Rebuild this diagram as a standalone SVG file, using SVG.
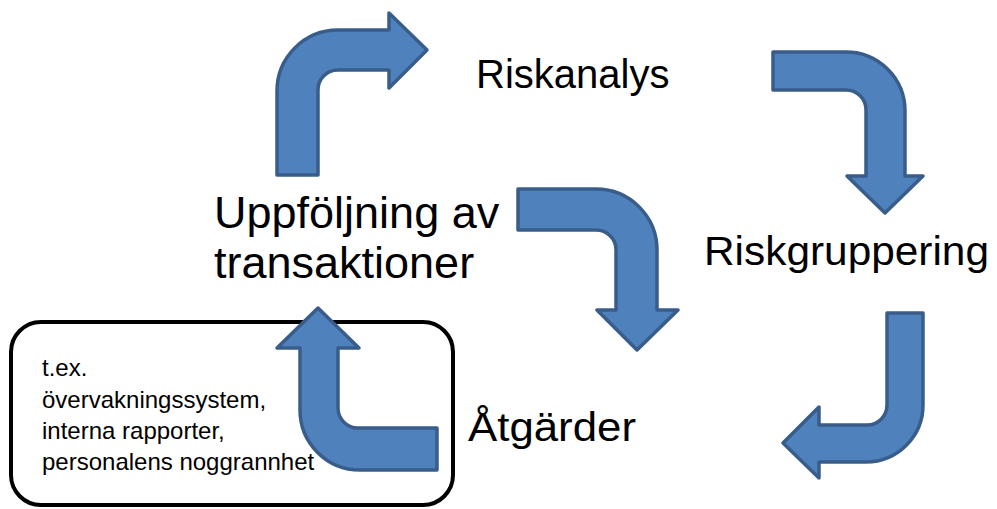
<svg xmlns="http://www.w3.org/2000/svg" width="997" height="509" viewBox="0 0 997 509">
  <style>
    .arr { fill: #4F81BD; stroke: #385D8A; stroke-width: 3.5; stroke-linejoin: round; }
    .lbl { font-family: "Liberation Sans", Arial, sans-serif; fill: #000; }
    .big { font-size: 40px; }
    .mid { font-size: 45px; }
    .small { font-size: 24px; }
    .box { fill: #fff; stroke: #000; stroke-width: 4; }
  </style>
  <rect width="997" height="509" fill="#fff"/>
  <g id="note">
    <rect class="box" x="11" y="322" width="442" height="183" rx="30" ry="30"/>
    <text class="lbl small" x="42" y="376">t.ex.</text>
    <text class="lbl small" x="42" y="408">övervakningssystem,</text>
    <text class="lbl small" x="42" y="439">interna rapporter,</text>
    <text class="lbl small" x="42" y="470">personalens noggrannhet</text>
  </g>
  <g id="connectors">
    <path class="arr" d="M277,175 L277,91 A61,61 0 0 1 338,30 L389,30 L389,13 L427,50 L389,88 L389,70 L338,70 A20,20 0 0 0 318,90 L318,175 Z"/>
    <path class="arr" d="M773,52 L846,52 A59,59 0 0 1 905,111 L905,176 L923,176 L885,213 L847,176 L866,176 L866,110 A20,20 0 0 0 846,90 L773,90 Z"/>
    <path class="arr" d="M518,189 L596,189 A61,61 0 0 1 657,250 L657,310 L678,310 L637,350 L597,310 L616,310 L616,250 A20,20 0 0 0 596,230 L518,230 Z"/>
    <path class="arr" d="M887,313 L923,313 L923,405 A57,57 0 0 1 866,462 L819,462 L819,478 L783,443 L819,407 L819,425 L867,425 A20,20 0 0 0 887,405 Z"/>
    <path class="arr" d="M437,428 L358,428 A20,20 0 0 1 338,408 L338,348 L359,348 L318,308 L277,348 L300,348 L300,410 A60,60 0 0 0 360,470 L437,470 Z"/>
  </g>
  <g id="riskanalys">
    <text class="lbl big" x="476" y="88">Riskanalys</text>
  </g>
  <g id="riskgruppering">
    <text class="lbl big" x="704" y="265" textLength="285" lengthAdjust="spacingAndGlyphs">Riskgruppering</text>
  </g>
  <g id="atgarder">
    <text class="lbl big" x="468" y="441" textLength="168" lengthAdjust="spacingAndGlyphs">Åtgärder</text>
  </g>
  <g id="uppfoljning">
    <text class="lbl mid" x="214" y="228">Uppföljning av</text>
    <text class="lbl mid" x="214" y="278">transaktioner</text>
  </g>
</svg>
